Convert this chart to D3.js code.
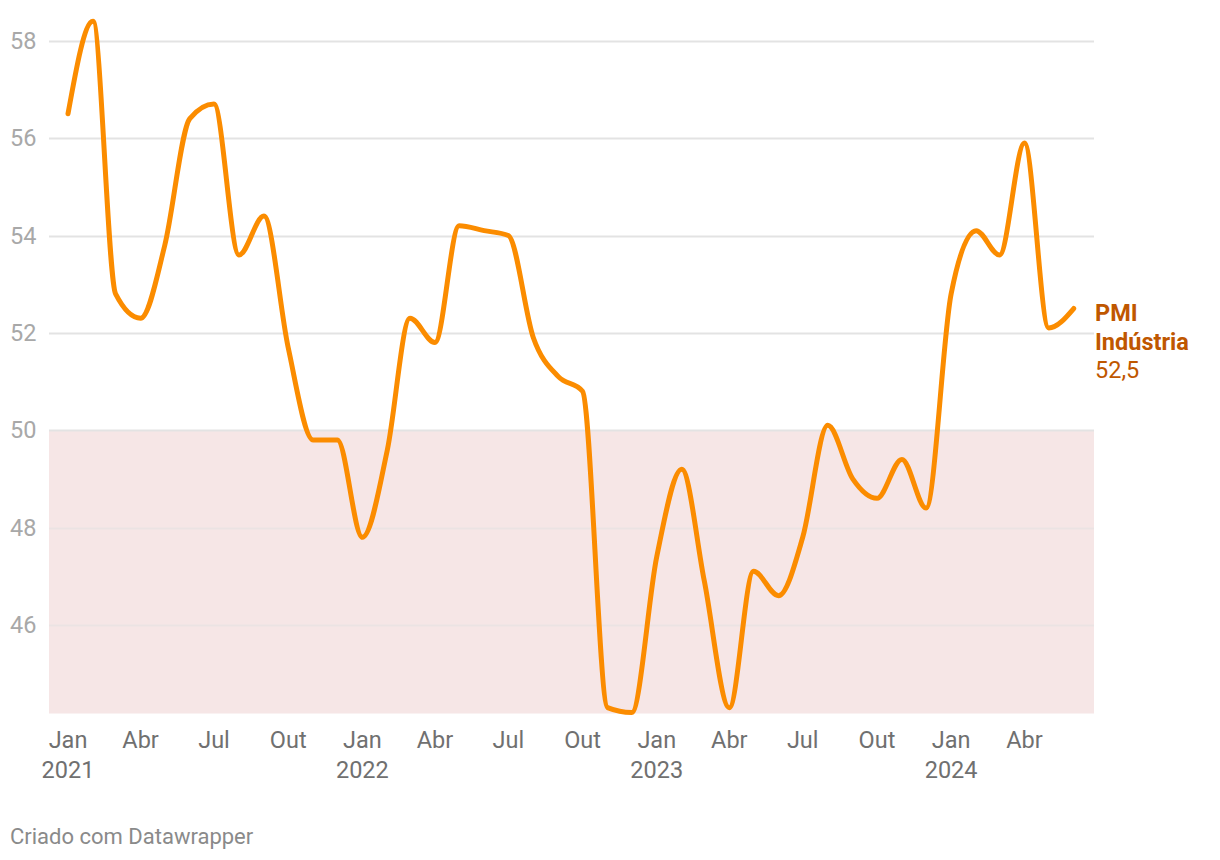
<!DOCTYPE html>
<html>
<head>
<meta charset="utf-8">
<script src="https://cdn.jsdelivr.net/npm/d3@7"></script>
<style>
  html, body { margin: 0; padding: 0; background: #fff; }
  svg { display: block; font-family: Roboto, "Noto Sans", sans-serif; }
</style>
</head>
<body>
<svg id="chart" width="1220" height="860"></svg>
<script>
// ---- data ----
const months = [
  "2021-01","2021-02","2021-03","2021-04","2021-05","2021-06","2021-07","2021-08","2021-09","2021-10","2021-11","2021-12",
  "2022-01","2022-02","2022-03","2022-04","2022-05","2022-06","2022-07","2022-08","2022-09","2022-10","2022-11","2022-12",
  "2023-01","2023-02","2023-03","2023-04","2023-05","2023-06","2023-07","2023-08","2023-09","2023-10","2023-11","2023-12",
  "2024-01","2024-02","2024-03","2024-04","2024-05","2024-06"
];
const pmiValues = [
  56.5, 58.4, 52.8, 52.3, 53.8, 56.4, 56.7, 53.6, 54.4, 51.7, 49.8, 49.8,
  47.8, 49.6, 52.3, 51.8, 54.2, 54.1, 54.0, 51.9, 51.1, 50.8, 44.3, 44.2,
  47.4, 49.2, 46.9, 44.3, 47.1, 46.6, 47.8, 50.1, 49.0, 48.6, 49.4, 48.4,
  52.8, 54.1, 53.6, 55.9, 52.1, 52.5
];
const yTicks = [46, 48, 50, 52, 54, 56, 58];
const xTickMonths = ["2021-01","2021-04","2021-07","2021-10","2022-01","2022-04","2022-07","2022-10",
                     "2023-01","2023-04","2023-07","2023-10","2024-01","2024-04"];
const monthNames = ["Jan","Fev","Mar","Abr","Mai","Jun","Jul","Ago","Set","Out","Nov","Dez"];
const seriesName = ["PMI", "Indústria"];
const lastLabel = "52,5";
const threshold = 50;
const footer = "Criado com Datawrapper";

// ---- chart ----
const parse = d3.timeParse("%Y-%m");
const data = months.map((m, i) => ({ date: parse(m), value: pmiValues[i] }));

const svg = d3.select("#chart");
const plotLeft = 49, plotRight = 1094;
const axisFont = 23.5;

const x = d3.scaleTime()
  .domain([parse(months[0]), parse(months[months.length - 1])])
  .range([68, 1073.7]);

const y = d3.scaleLinear()
  .domain([44.18, 58])
  .range([713.5, 40.8]);

// shaded area below 50
svg.append("rect")
  .attr("x", plotLeft)
  .attr("width", plotRight - plotLeft)
  .attr("y", y(threshold))
  .attr("height", y.range()[0] - y(threshold))
  .attr("fill", "#f6e6e6");

// gridlines
svg.append("g").selectAll("line")
  .data(yTicks)
  .join("line")
  .attr("x1", plotLeft).attr("x2", plotRight)
  .attr("y1", d => Math.round(y(d)) + 0.5).attr("y2", d => Math.round(y(d)) + 0.5)
  .attr("stroke", d => d < threshold ? "#ebe3e3" : "#e3e3e3")
  .attr("stroke-width", 2);

// y labels
svg.append("g").selectAll("text")
  .data(yTicks)
  .join("text")
  .attr("x", 10)
  .attr("y", d => y(d))
  .attr("dy", "0.35em")
  .attr("font-size", axisFont)
  .attr("fill", "#a8a8a8")
  .text(d => d);

// x axis labels
const xg = svg.append("g").selectAll("g")
  .data(xTickMonths.map(parse))
  .join("g")
  .attr("transform", d => `translate(${x(d)},0)`);
xg.append("text")
  .attr("y", 740).attr("dy", "0.35em")
  .attr("text-anchor", "middle")
  .attr("font-size", axisFont)
  .attr("fill", "#707070")
  .text(d => monthNames[d.getMonth()]);
xg.filter(d => d.getMonth() === 0).append("text")
  .attr("y", 770).attr("dy", "0.35em")
  .attr("text-anchor", "middle")
  .attr("font-size", axisFont)
  .attr("fill", "#707070")
  .text(d => d.getFullYear());

// line
const line = d3.line()
  .x(d => x(d.date))
  .y(d => y(d.value))
  .curve(d3.curveMonotoneX);

svg.append("path")
  .datum(data)
  .attr("d", line)
  .attr("fill", "none")
  .attr("stroke", "#fb8c00")
  .attr("stroke-width", 5)
  .attr("stroke-linecap", "round")
  .attr("stroke-linejoin", "round");

// end label
const lbl = svg.append("text")
  .attr("x", 1095)
  .attr("font-size", 23.5)
  .attr("fill", "#bf5700");
lbl.append("tspan").attr("x", 1095).attr("y", 313).attr("dy", "0.35em")
  .attr("font-weight", "bold").text(seriesName[0]);
lbl.append("tspan").attr("x", 1095).attr("y", 341.5).attr("dy", "0.35em")
  .attr("font-weight", "bold").text(seriesName[1]);
lbl.append("tspan").attr("x", 1095).attr("y", 370).attr("dy", "0.35em")
  .text(lastLabel);

// footer
svg.append("text")
  .attr("x", 10).attr("y", 836).attr("dy", "0.35em")
  .attr("font-size", 22)
  .attr("fill", "#8a8a8a")
  .text(footer);
</script>
</body>
</html>
